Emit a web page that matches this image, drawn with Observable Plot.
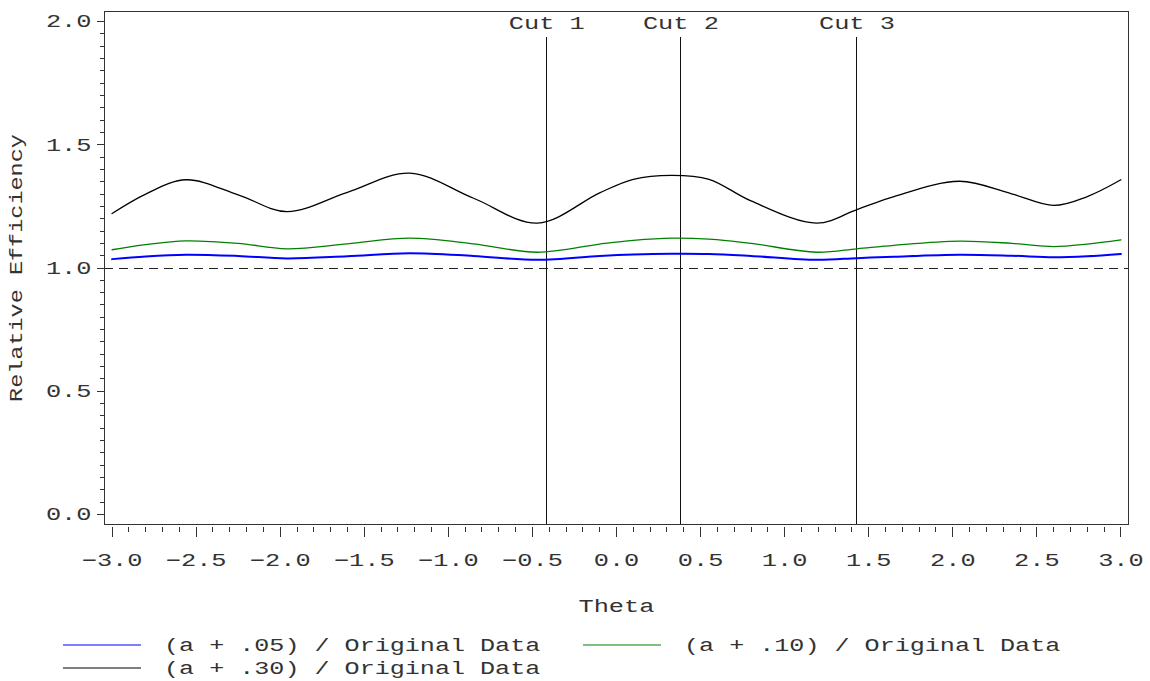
<!DOCTYPE html>
<html>
<head>
<meta charset="utf-8">
<script src="https://cdn.jsdelivr.net/npm/d3@7"></script>
<script src="https://cdn.jsdelivr.net/npm/@observablehq/plot@0.6"></script>
<style>
  html, body { margin: 0; padding: 0; background: #fff; }
  #chart svg { display: block; }
</style>
</head>
<body>
<div id="chart"></div>
<script>
// ---- data ----
const theta = [-3.0, -2.8, -2.56, -2.25, -1.96, -1.6, -1.23, -0.85, -0.47, -0.1, 0.1, 0.33, 0.55, 0.8, 1.19, 1.43, 1.65, 2.04, 2.35, 2.6, 2.8, 3.0];
const ratio05 = [1.036, 1.047, 1.054, 1.049, 1.039, 1.048, 1.060, 1.049, 1.033, 1.049, 1.055, 1.058, 1.057, 1.049, 1.033, 1.040, 1.046, 1.054, 1.050, 1.044, 1.048, 1.057];
const ratio10 = [1.074, 1.095, 1.110, 1.100, 1.078, 1.098, 1.121, 1.098, 1.064, 1.097, 1.112, 1.121, 1.117, 1.100, 1.064, 1.078, 1.092, 1.109, 1.100, 1.087, 1.097, 1.114];
const ratio30 = [1.221, 1.300, 1.358, 1.297, 1.229, 1.307, 1.385, 1.283, 1.182, 1.305, 1.360, 1.376, 1.360, 1.272, 1.182, 1.237, 1.290, 1.352, 1.301, 1.254, 1.290, 1.358];
const seriesNames = ["(a + .05) / Original Data", "(a + .10) / Original Data", "(a + .30) / Original Data"];
const seriesColors = ["#0000ff", "#008000", "#000000"];
const cutPositions = [-0.415, 0.383, 1.43];
const cutLabels = ["Cut 1", "Cut 2", "Cut 3"];
const cutTop = 1.937;
const referenceLevel = [1.0];
const xMajorTicks = [-3.0, -2.5, -2.0, -1.5, -1.0, -0.5, 0.0, 0.5, 1.0, 1.5, 2.0, 2.5, 3.0];
const yMajorTicks = [0.0, 0.5, 1.0, 1.5, 2.0];
const xMinorTicks = d3.range(-30, 31).map(i => i / 10);
const yMinorTicks = d3.range(0, 41).map(i => i / 20);
const xTitle = "Theta";
const yTitle = "Relative Efficiency";

// ---- build tables ----
const seriesValues = [ratio05, ratio10, ratio30];
const rows = seriesNames.map((name, s) => theta.map((t, i) => ({theta: t, value: seriesValues[s][i], series: name})));
const cuts = cutPositions.map((x, i) => ({x, label: cutLabels[i]}));
const xDomain = [-3.045, 3.045];
const yDomain = [-0.042, 2.042];
const fmt = d3.format(".1f");
const textColor = "#333";
const crisp = {shapeRendering: "crispEdges"};

const chart = Plot.plot({
  width: 1150,
  height: 630,
  marginLeft: 104,
  marginRight: 22,
  marginTop: 10.7,
  marginBottom: 105.7,
  x: {domain: xDomain},
  y: {domain: yDomain},
  style: {fontFamily: "'Liberation Mono', monospace", fontSize: "18px", color: textColor, background: "#fff", overflow: "visible"},
  marks: [
    Plot.ruleY(referenceLevel, {stroke: "#222", strokeDasharray: "9,6", ...crisp}),
    Plot.ruleX(cuts, {x: "x", y1: () => yDomain[0], y2: () => cutTop, stroke: "#111", ...crisp}),
    Plot.text(cuts, {x: "x", text: "label", frameAnchor: "top", lineAnchor: "middle", dy: 12, fill: textColor}),
    Plot.line(rows[0], {x: "theta", y: "value", stroke: seriesColors[0], strokeWidth: 2, curve: "catmull-rom"}),
    Plot.line(rows[1], {x: "theta", y: "value", stroke: seriesColors[1], strokeWidth: 1.3, curve: "catmull-rom"}),
    Plot.line(rows[2], {x: "theta", y: "value", stroke: seriesColors[2], strokeWidth: 1.3, curve: "catmull-rom"}),
    Plot.frame({stroke: "#333", ...crisp}),
    Plot.axisY({ticks: yMajorTicks, tickSize: 7.5, tickPadding: 5.5, tickFormat: fmt, label: null, stroke: "#333", ...crisp}),
    Plot.axisY({ticks: yMinorTicks, tickSize: 4.3, fill: "none", tickFormat: () => "", label: null, stroke: "#333", ...crisp}),
    Plot.axisX({ticks: xMajorTicks, tickSize: 10, tickPadding: 16, dy: 2.5, tickFormat: fmt, label: null, stroke: "#333", ...crisp}),
    Plot.axisX({ticks: xMinorTicks, tickSize: 5.5, dy: 2.5, fill: "none", tickFormat: () => "", label: null, stroke: "#333", ...crisp}),
    Plot.text([xTitle], {text: d => d, frameAnchor: "bottom", lineAnchor: "middle", dy: 81.7, fill: textColor}),
    Plot.text([yTitle], {text: d => d, frameAnchor: "left", textAnchor: "middle", lineAnchor: "middle", dx: -88, rotate: -90, fill: textColor})
  ]
});
document.getElementById("chart").appendChild(chart);

// stretch glyphs horizontally (about each text's anchor) to the wide fixed pitch of the reference font
const advance = 18 * 0.6;
const pitch = 15.2;
chart.querySelectorAll("text").forEach(t => {
  const s = t.textContent;
  if (!s) return;
  const sx = s === yTitle ? 268 / (s.length * advance) : pitch / advance;
  const b = t.getBBox();
  const anchor = getComputedStyle(t).textAnchor;
  const ax = anchor === "end" ? b.x + b.width : anchor === "middle" ? b.x + b.width / 2 : b.x;
  const tr = t.getAttribute("transform") || "";
  t.setAttribute("transform", `${tr} translate(${ax},0) scale(${sx},1) translate(${-ax},0)`.trim());
});

// ---- legend below the plot ----
const legendSlots = [{col: 0, row: 0}, {col: 1, row: 0}, {col: 0, row: 1}];
const legend = d3.create("svg").attr("width", 1150).attr("height", 51)
  .style("display", "block").style("font-family", "'Liberation Mono', monospace").style("font-size", "18px");
seriesNames.forEach((name, i) => {
  const slot = legendSlots[i];
  const x0 = slot.col === 0 ? 63 : 583;
  const y0 = 15 + slot.row * 23;
  legend.append("line").attr("x1", x0).attr("x2", x0 + 78).attr("y1", y0).attr("y2", y0)
    .attr("stroke", seriesColors[i]).attr("stroke-width", 1.2);
  legend.append("text").attr("transform", `translate(${x0 + 101},${y0}) scale(${15.05 / advance},1)`)
    .attr("dy", "0.35em").attr("fill", textColor).text(name);
});
document.getElementById("chart").appendChild(legend.node());
</script>
</body>
</html>
